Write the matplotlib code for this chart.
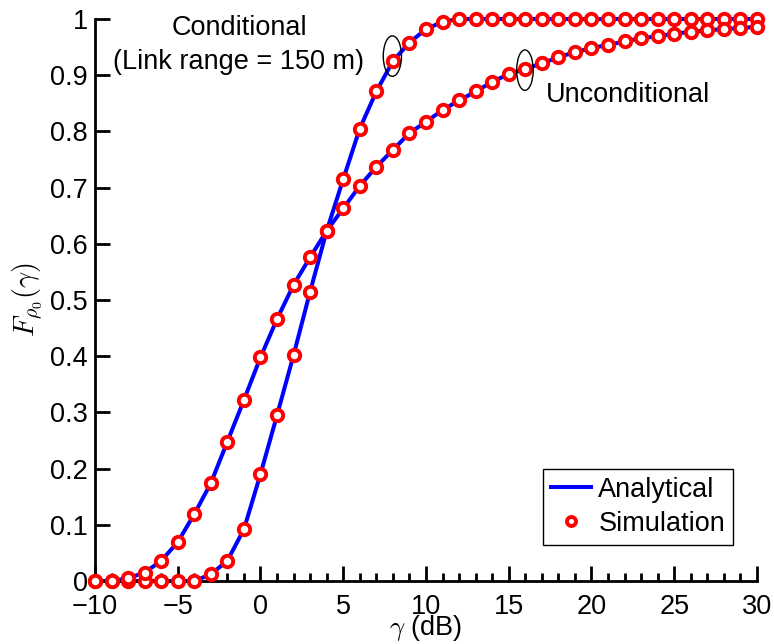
import matplotlib
matplotlib.use("Agg")
import matplotlib.pyplot as plt
import numpy as np
from matplotlib.patches import Ellipse
from matplotlib.ticker import MultipleLocator

plt.rcParams["font.family"] = ["Liberation Sans", "DejaVu Sans"]
plt.rcParams["mathtext.fontset"] = "cm"

gamma_db = list(range(-10, 31))

# conditional CDF (link range = 150 m)
conditional = [0.0, 0.0, 0.0, 0.0, 0.0, 0.0, 0.0, 0.012, 0.036, 0.092,
               0.19, 0.295, 0.402, 0.515, 0.623, 0.715, 0.805, 0.871, 0.925, 0.958,
               0.982, 0.995, 1.0, 1.0, 1.0, 1.0, 1.0, 1.0, 1.0, 1.0,
               1.0, 1.0, 1.0, 1.0, 1.0, 1.0, 1.0, 1.0, 1.0, 1.0, 1.0]

# unconditional CDF
unconditional = [0.0, 0.0, 0.005, 0.015, 0.036, 0.069, 0.119, 0.174, 0.248, 0.322,
                 0.398, 0.466, 0.527, 0.576, 0.623, 0.663, 0.703, 0.737, 0.767, 0.797,
                 0.817, 0.838, 0.855, 0.871, 0.888, 0.902, 0.911, 0.921, 0.932, 0.941,
                 0.948, 0.954, 0.960, 0.966, 0.969, 0.974, 0.977, 0.980, 0.982, 0.984, 0.986]

fs = 19.5
fig = plt.figure(figsize=(7.74, 6.44), dpi=100)
ax = fig.add_axes([0.1227, 0.0978, 0.8553, 0.8727])

for series in (conditional, unconditional):
    ax.plot(gamma_db, series, color="#0000ff", lw=2.9, zorder=2, clip_on=False)
    ax.plot(gamma_db, series, ls="none", marker="o", ms=8.2, mfc="white",
            mec="#ff0000", mew=2.8, zorder=3, clip_on=False)

# legend proxies
ax.plot([], [], color="#0000ff", lw=2.9, label="Analytical")
ax.plot([], [], ls="none", marker="o", ms=6.5, mfc="white", mec="#ff0000",
        mew=2.8, label="Simulation")

ax.add_patch(Ellipse((7.97, 0.934), 1.1, 0.072, fill=False, ec="black", lw=1, zorder=4))
ax.add_patch(Ellipse((15.98, 0.909), 1.0, 0.072, fill=False, ec="black", lw=1, zorder=4))

ax.text(-1.3, 0.953, "Conditional\n(Link range = 150 m)", ha="center", va="center",
        fontsize=fs, linespacing=1.4)
ax.text(17.25, 0.865, "Unconditional", ha="left", va="center", fontsize=fs)

ax.set_xlim(-10, 30)
ax.set_ylim(0, 1)
ax.set_xticks(range(-10, 31, 5))
ax.set_xticklabels(["\u221210", "\u22125", "0", "5", "10", "15", "20", "25", "30"])
ax.xaxis.set_minor_locator(MultipleLocator(1))
ax.set_yticks(np.arange(0, 1.01, 0.1))
ax.set_yticklabels(["0", "0.1", "0.2", "0.3", "0.4", "0.5", "0.6", "0.7", "0.8", "0.9", "1"])

ax.spines["top"].set_visible(False)
ax.spines["right"].set_visible(False)
for side in ("left", "bottom"):
    ax.spines[side].set_linewidth(2)
ax.tick_params(which="major", direction="in", length=11, width=2, labelsize=fs)
ax.tick_params(axis="x", which="major", pad=9)
ax.tick_params(axis="y", which="major", pad=5)
ax.tick_params(which="minor", direction="in", length=5.5, width=2)
ax.set_xlabel(r"$\gamma$ (dB)", fontsize=fs, labelpad=-5)
ax.set_ylabel(r"$F_{\rho_0}(\gamma)$", fontsize=fs + 1, labelpad=4)

leg = ax.legend(loc="lower right", bbox_to_anchor=(0.964, 0.064), borderaxespad=0,
                fontsize=fs, fancybox=False, framealpha=1, edgecolor="black",
                handlelength=1.5, handletextpad=0.25, borderpad=0.3, labelspacing=0.3)
leg.get_frame().set_linewidth(1)

fig.savefig("out.png", dpi=100)
